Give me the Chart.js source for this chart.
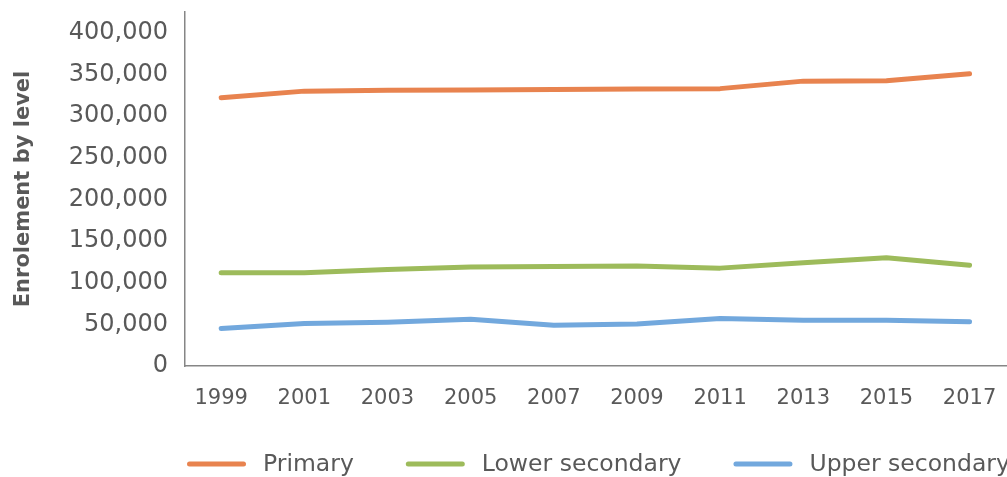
<!DOCTYPE html>
<html>
<head>
<meta charset="UTF-8">
<title>Enrolement by level</title>
<script src="https://cdn.jsdelivr.net/npm/chart.js@4.4.1/dist/chart.umd.min.js"></script>
<style>
  html, body { margin: 0; padding: 0; background: #fff; }
  #wrap { width: 1007px; height: 477px; }
</style>
</head>
<body>
<div id="wrap"><canvas id="chart" width="1007" height="477"></canvas></div>
<script>
// years on the x axis
const years = [1999, 2001, 2003, 2005, 2007, 2009, 2011, 2013, 2015, 2017];
// enrolment
const primary = [322000, 330000, 331000, 331500, 332000, 332500, 333000, 342000, 342500, 351000];
const lowerSecondary = [112000, 112000, 116000, 119000, 119500, 120000, 117500, 124000, 130000, 121000];
const upperSecondary = [45000, 51000, 52500, 56000, 49000, 50500, 57000, 55000, 55000, 53000];
const yTicks = [0, 50000, 100000, 150000, 200000, 250000, 300000, 350000, 400000];

const grey = '#595959';
const axisGrey = '#868686';

function series(label, values, color) {
  return {
    label,
    data: years.map((y, i) => ({ x: y, y: values[i] })),
    borderColor: color,
    backgroundColor: color,
    borderWidth: 5,
    borderCapStyle: 'round',
    borderJoinStyle: 'round',
    pointRadius: 0,
    tension: 0
  };
}

// legend drawn by hand so the spacing matches the original
const bottomLegend = {
  id: 'bottomLegend',
  afterDraw(chart) {
    const ctx = chart.ctx;
    const y = 464;
    let x = 187;
    ctx.save();
    ctx.font = '23.5px "DejaVu Sans"';
    ctx.textBaseline = 'middle';
    ctx.textAlign = 'left';
    chart.data.datasets.forEach(ds => {
      ctx.strokeStyle = ds.borderColor;
      ctx.lineWidth = 5;
      ctx.lineCap = 'round';
      ctx.beginPath();
      ctx.moveTo(x + 2.5, y);
      ctx.lineTo(x + 56.5, y);
      ctx.stroke();
      x += 59 + 17;
      ctx.fillStyle = grey;
      ctx.fillText(ds.label, x, y + 1);
      x += ctx.measureText(ds.label).width + 52;
    });
    ctx.restore();
  }
};

new Chart(document.getElementById('chart'), {
  type: 'line',
  data: {
    datasets: [
      series('Primary', primary, '#E8834F'),
      series('Lower secondary', lowerSecondary, '#9DBB5B'),
      series('Upper secondary', upperSecondary, '#72A8DD')
    ]
  },
  plugins: [bottomLegend],
  options: {
    responsive: false,
    animation: false,
    layout: { padding: { top: 12, right: 0, left: 0, bottom: 0 } },
    plugins: {
      tooltip: { enabled: false },
      legend: { display: false }
    },
    scales: {
      x: {
        type: 'linear',
        min: 1998.13,
        max: 2017.9,
        grid: { display: false },
        border: { color: axisGrey, width: 1.5 },
        afterBuildTicks: axis => { axis.ticks = years.map(v => ({ value: v })); },
        afterFit: scale => {
          scale.height = 111;
          scale.paddingLeft = 0;
          scale.paddingRight = 0;
        },
        ticks: {
          autoSkip: false,
          maxRotation: 0,
          padding: 12,
          color: grey,
          font: { family: 'DejaVu Sans', size: 21 },
          callback: v => String(v)
        }
      },
      y: {
        min: 0,
        max: 425000,
        grid: { display: false },
        border: { color: axisGrey, width: 1.5 },
        afterBuildTicks: axis => { axis.ticks = yTicks.map(v => ({ value: v })); },
        afterFit: scale => {
          scale.width = 185;
          scale.paddingTop = 0;
          scale.paddingBottom = 0;
        },
        title: {
          display: true,
          text: 'Enrolement by level',
          color: grey,
          padding: { top: 11, bottom: 0 },
          font: { family: 'DejaVu Sans', size: 21, weight: 'bold' }
        },
        ticks: {
          padding: 9,
          color: grey,
          font: { family: 'DejaVu Sans', size: 24 },
          callback: v => v.toLocaleString('en-US')
        }
      }
    }
  }
});
</script>
</body>
</html>
